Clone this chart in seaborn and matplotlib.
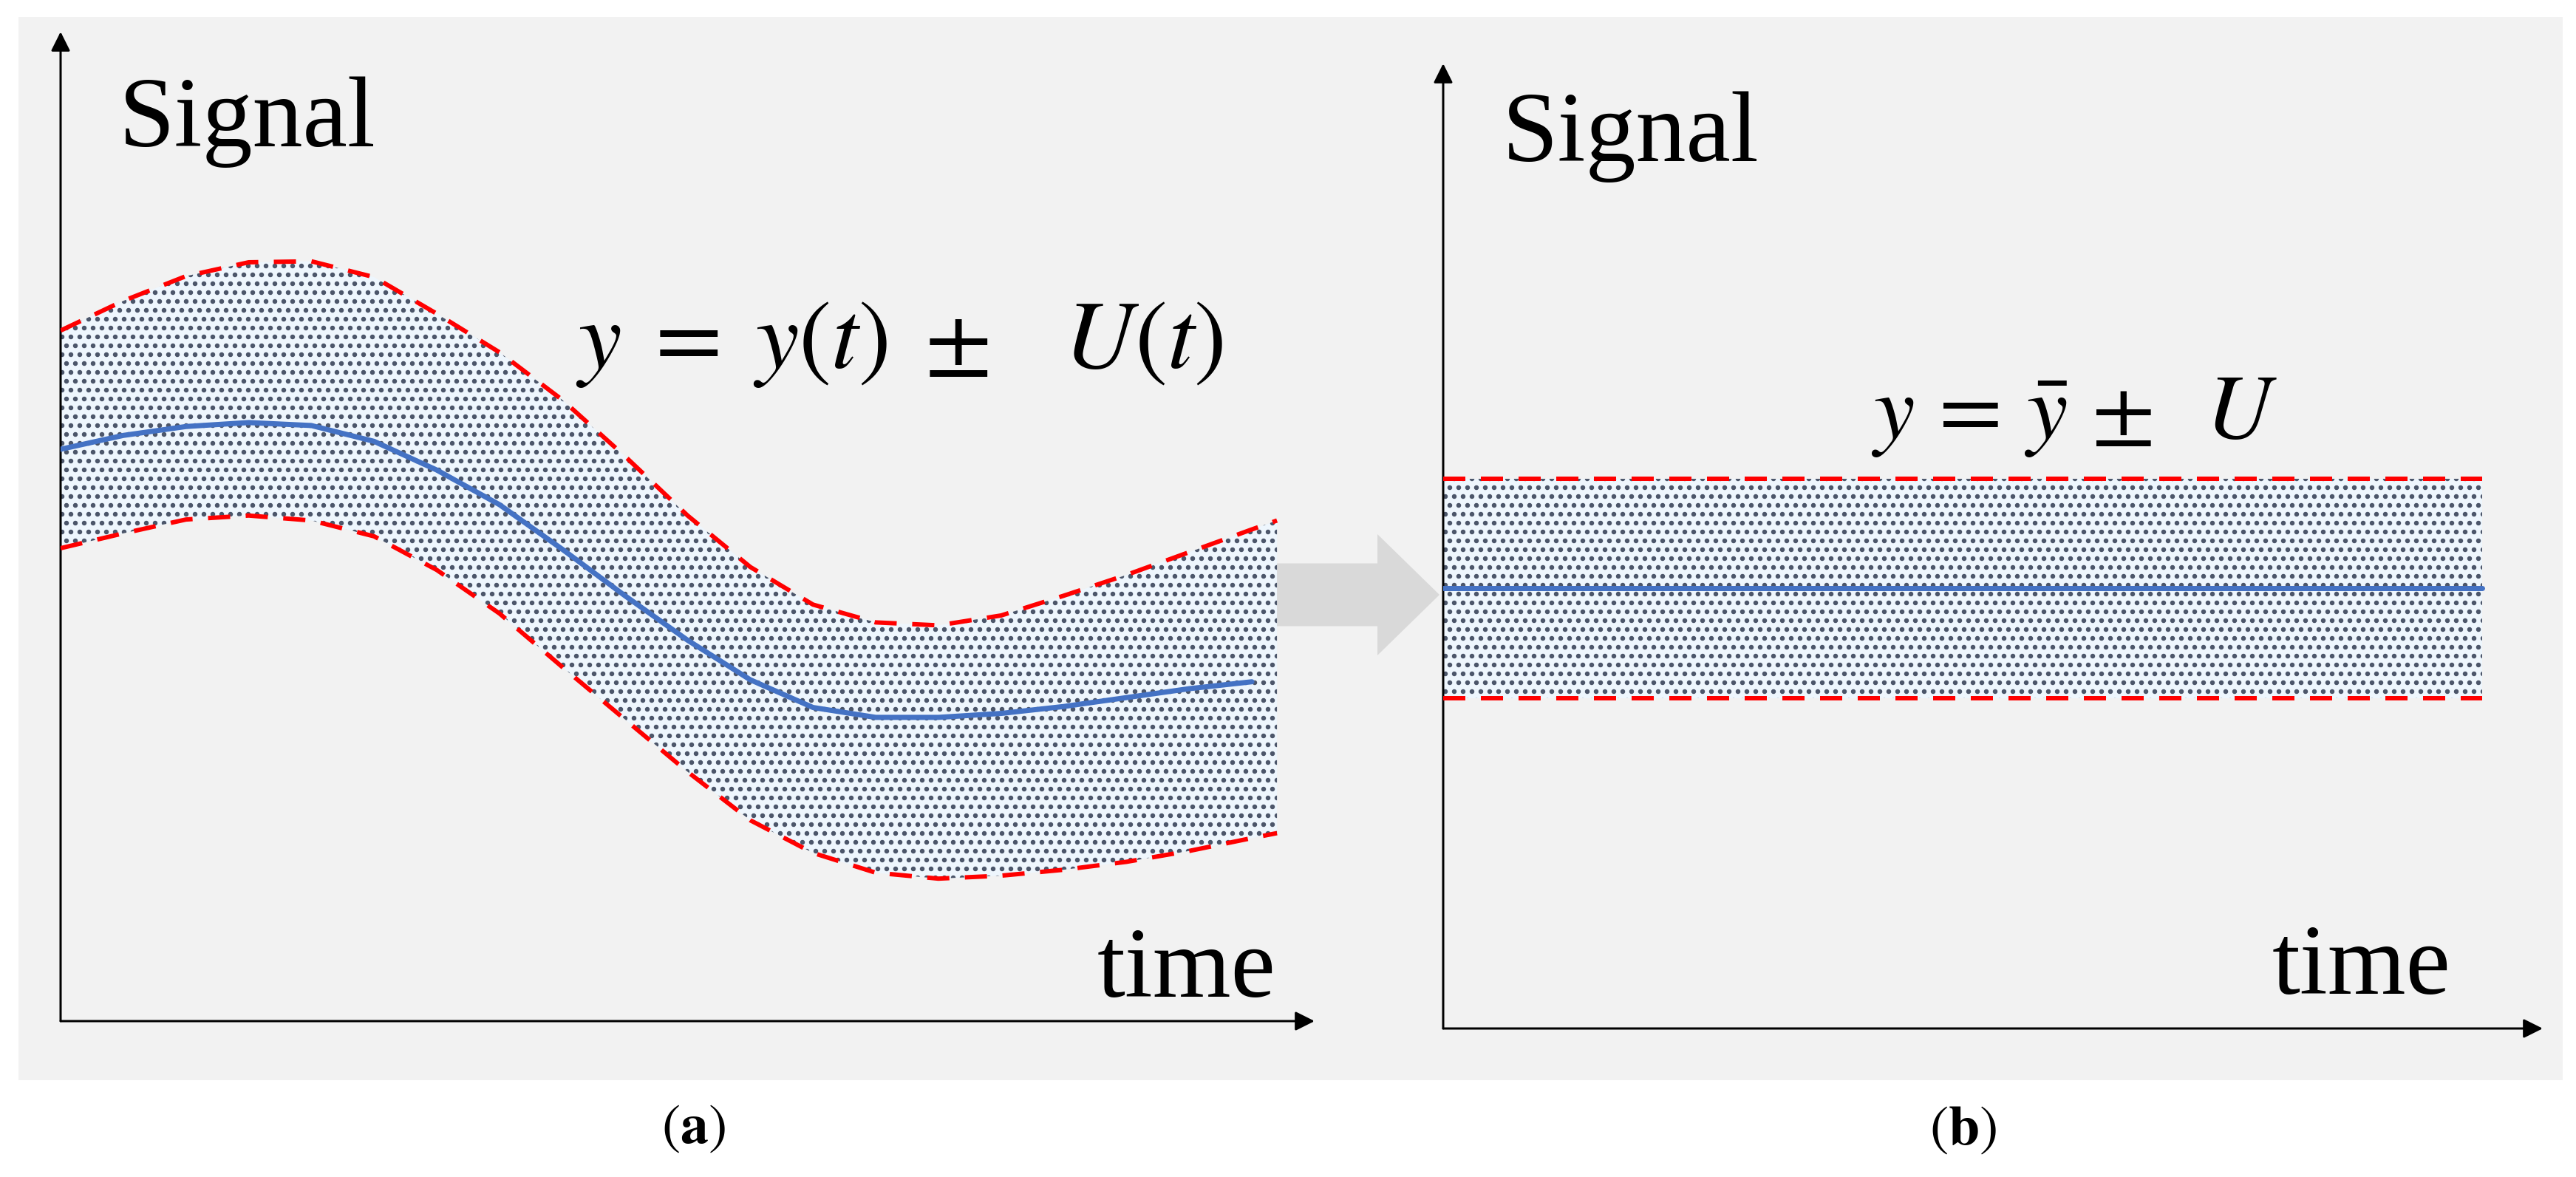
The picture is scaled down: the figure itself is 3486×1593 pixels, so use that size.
import matplotlib
matplotlib.use("Agg")
import matplotlib.pyplot as plt
import seaborn as sns
from matplotlib.patches import Rectangle, FancyArrow

# ---- data ----
# panel (a): time grid (arbitrary units 0..10 along the time axis)
time_a = [0.0, 0.5, 1.0, 1.5, 2.0, 2.5, 3.0, 3.5, 4.0, 4.5, 5.0,
          5.5, 6.0, 6.5, 7.0, 7.5, 8.0, 8.5, 9.0, 9.5, 9.7]
# measured signal y(t) (blue), up to t = 9.5
signal_a = [5.78, 5.92, 6.01, 6.05, 6.02, 5.86, 5.57, 5.22, 4.77, 4.30,
            3.85, 3.45, 3.17, 3.07, 3.07, 3.11, 3.18, 3.27, 3.36, 3.43]
# y(t) + U(t) and y(t) - U(t) (red dashed)
upper_a = [6.98, 7.28, 7.53, 7.67, 7.68, 7.52, 7.15, 6.76, 6.28, 5.71, 5.11,
           4.59, 4.21, 4.03, 4.00, 4.10, 4.30, 4.51, 4.74, 4.97, 5.06]
lower_a = [4.78, 4.93, 5.07, 5.11, 5.06, 4.90, 4.56, 4.12, 3.58, 3.05, 2.52,
           2.03, 1.70, 1.50, 1.44, 1.47, 1.53, 1.61, 1.72, 1.85, 1.90]

# panel (b): constant mean and constant uncertainty
time_b = [0.0, 9.45]
mean_b = 4.56
unc_b = 1.14

eq_a = r"$y\;=\;y(t)\;\pm\;\;\;U(t)$"
eq_b = r"$y\,=\,\bar{y}\,\pm\;\;U$"
panel_labels = [r"$(\mathbf{a})$", r"$(\mathbf{b})$"]

# ---- style ----
W, H, DPI = 3486, 1593, 72
sns.set_style("white")
plt.rcParams["font.family"] = ["Liberation Serif", "DejaVu Serif"]
plt.rcParams["mathtext.fontset"] = "stix"
plt.rcParams["hatch.linewidth"] = 4
plt.rcParams["text.color"] = "black"

RED = "#ff0000"
BLUE = "#4472c4"
DOTS = "#4b5569"
FILL = "#eef6fd"


def fx(px):
    return px / W


def fy(py):
    return 1 - py / H


fig = plt.figure(figsize=(W / DPI, H / DPI), dpi=DPI)
fig.patch.set_facecolor("white")
fig.add_artist(Rectangle((fx(25), fy(1462)), fx(3468) - fx(25), fy(23) - fy(1462),
                         transform=fig.transFigure, facecolor="#f2f2f2",
                         edgecolor="none", zorder=-1))

ax1 = fig.add_axes([fx(82), fy(1382), fx(1779) - fx(82), fy(43) - fy(1382)])
ax2 = fig.add_axes([fx(1953), fy(1392), fx(3441) - fx(1953), fy(86) - fy(1392)])

arrow_kw = dict(arrowstyle="-|>", color="black", lw=3, mutation_scale=55,
                shrinkA=0, shrinkB=0)

for ax in (ax1, ax2):
    ax.set_xlim(0, 10)
    ax.set_ylim(0, 10)
    ax.axis("off")
    ax.annotate("", xy=(10, 0), xytext=(0, 0), arrowprops=arrow_kw,
                annotation_clip=False)
    ax.annotate("", xy=(0, 10), xytext=(0, 0), arrowprops=arrow_kw,
                annotation_clip=False)

# panel (a)
ax1.fill_between(time_a, lower_a, upper_a, facecolor=FILL, edgecolor=DOTS,
                 hatch=".", linewidth=0, zorder=1)
sns.lineplot(x=time_a, y=upper_a, ax=ax1, color=RED, linewidth=6,
             linestyle=(0, (5, 3.5)), sort=False, estimator=None, zorder=3)
sns.lineplot(x=time_a, y=lower_a, ax=ax1, color=RED, linewidth=6,
             linestyle=(0, (5, 3.5)), sort=False, estimator=None, zorder=3)
sns.lineplot(x=time_a[:len(signal_a)], y=signal_a, ax=ax1, color=BLUE,
             linewidth=7, sort=False, estimator=None, zorder=3)

# panel (b)
lo_b = [mean_b - unc_b] * len(time_b)
hi_b = [mean_b + unc_b] * len(time_b)
ax2.fill_between(time_b, lo_b, hi_b, facecolor=FILL, edgecolor=DOTS,
                 hatch=".", linewidth=0, zorder=1)
sns.lineplot(x=time_b, y=hi_b, ax=ax2, color=RED, linewidth=6,
             linestyle=(0, (5, 3.5)), sort=False, estimator=None, zorder=3)
sns.lineplot(x=time_b, y=lo_b, ax=ax2, color=RED, linewidth=6,
             linestyle=(0, (5, 3.5)), sort=False, estimator=None, zorder=3)
sns.lineplot(x=time_b, y=[mean_b] * len(time_b), ax=ax2, color=BLUE,
             linewidth=7, sort=False, estimator=None, zorder=3)

# grey block arrow between the panels
fig.add_artist(FancyArrow(fx(1728), fy(805), fx(1948) - fx(1728), 0,
                          width=fy(763) - fy(848), head_width=fy(723) - fy(887),
                          head_length=fx(1948) - fx(1864), length_includes_head=True,
                          transform=fig.transFigure, color="#d9d9d9", lw=0, zorder=0))

# texts
fig.text(fx(161), fy(198), "Signal", fontsize=136, va="baseline", ha="left")
fig.text(fx(2033), fy(218), "Signal", fontsize=136, va="baseline", ha="left")
fig.text(fx(1726), fy(1349), "time", fontsize=136, va="baseline", ha="right")
fig.text(fx(3317), fy(1345), "time", fontsize=136, va="baseline", ha="right")
fig.text(fx(779), fy(498), eq_a, fontsize=132, va="baseline", ha="left")
fig.text(fx(2532), fy(593), eq_b, fontsize=125, va="baseline", ha="left")
fig.text(fx(938), fy(1528), panel_labels[0], fontsize=76, va="center", ha="center")
fig.text(fx(2657), fy(1530), panel_labels[1], fontsize=76, va="center", ha="center")

fig.savefig("out.png", dpi=DPI, facecolor="white")
